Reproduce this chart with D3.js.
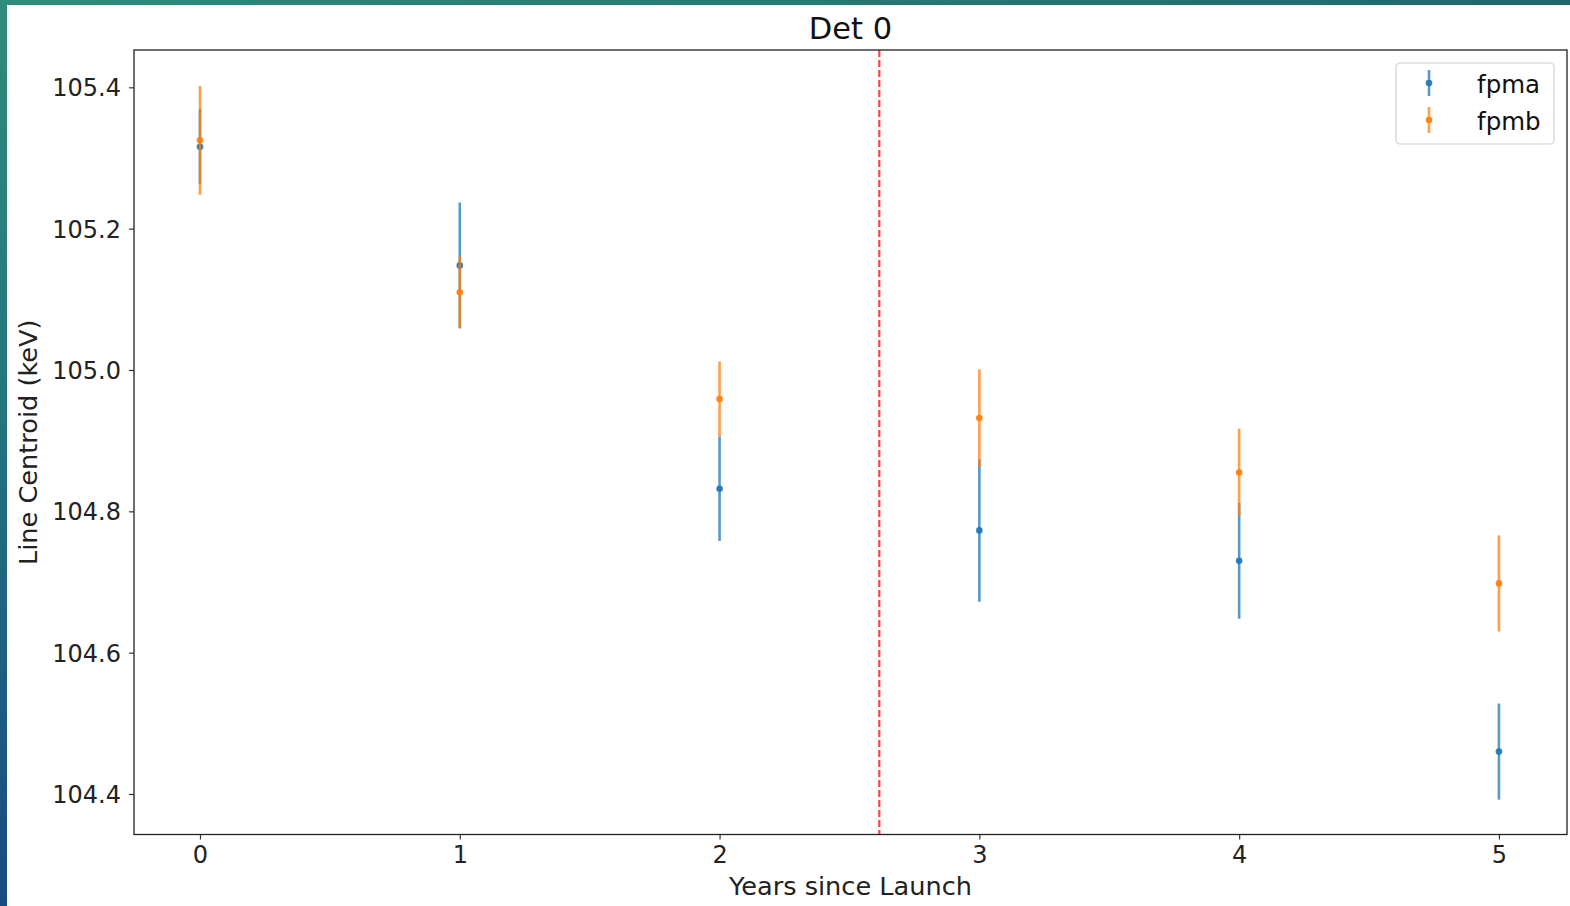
<!DOCTYPE html>
<html>
<head>
<meta charset="utf-8">
<script src="https://cdn.jsdelivr.net/npm/d3@7"></script>
<style>
  body { margin: 0; background: #fff; }
  svg { display: block; font-family: "DejaVu Sans", sans-serif; }
</style>
</head>
<body>
<svg id="root"></svg>
<script>
// Line centroid per detector over mission years

const years = [0, 1, 2, 3, 4, 5];
const fpma = [105.316, 105.148, 104.832, 104.773, 104.730, 104.460];
const fpmaErr = [0.053, 0.089, 0.074, 0.101, 0.082, 0.068];
const fpmb = [105.325, 105.110, 104.959, 104.932, 104.855, 104.698];
const fpmbErr = [0.077, 0.051, 0.053, 0.069, 0.062, 0.068];
const yTicks = [104.4, 104.6, 104.8, 105.0, 105.2, 105.4];
const xTicks = [0, 1, 2, 3, 4, 5];
const cutYear = 2.615; // red dashed marker

const W = 1570, H = 906;
const margin = { top: 50, right: 3, bottom: 71.5, left: 134 },
  width = W - margin.left - margin.right,
  height = H - margin.top - margin.bottom;

const root = d3.select("#root").attr("width", W).attr("height", H);

// slide background strips (left and top)
const defs = root.append("defs");
const gl = defs.append("linearGradient").attr("id", "leftGrad")
  .attr("x1", 0).attr("y1", 0).attr("x2", 0).attr("y2", 1);
gl.append("stop").attr("offset", "0%").attr("stop-color", "#2f8c7a");
gl.append("stop").attr("offset", "45%").attr("stop-color", "#23757f");
gl.append("stop").attr("offset", "100%").attr("stop-color", "#1a4a82");
const gt = defs.append("linearGradient").attr("id", "topGrad")
  .attr("x1", 0).attr("y1", 0).attr("x2", 1).attr("y2", 0);
gt.append("stop").attr("offset", "0%").attr("stop-color", "#2f8c7a");
gt.append("stop").attr("offset", "100%").attr("stop-color", "#1f676e");
root.append("rect").attr("x", 0).attr("y", 0).attr("width", W).attr("height", 5).attr("fill", "url(#topGrad)");
root.append("rect").attr("x", 0).attr("y", 0).attr("width", 7).attr("height", H).attr("fill", "url(#leftGrad)");

const svg = root.append("g")
  .attr("transform", "translate(" + margin.left + "," + margin.top + ")");

const xScale = d3.scaleLinear([-0.254, 5.262], [0, width]);
const yScale = d3.scaleLinear([104.3427, 105.4528], [height, 0]);

// axes
const xAxis = d3.axisBottom(xScale).tickValues(xTicks).tickFormat(d3.format("d")).tickSize(5).tickPadding(6);
const yAxis = d3.axisLeft(yScale).tickValues(yTicks).tickFormat(d3.format(".1f")).tickSize(5).tickPadding(8);
svg.append("g").attr("transform", `translate(0,${height})`).call(xAxis)
  .call((g) => g.select(".domain").remove())
  .call((g) => g.selectAll("line").attr("stroke", "#333").attr("stroke-width", 1.2))
  .call((g) => g.selectAll("text").attr("font-size", 24).attr("fill", "#222").attr("font-family", "DejaVu Sans"));
svg.append("g").call(yAxis)
  .call((g) => g.select(".domain").remove())
  .call((g) => g.selectAll("line").attr("stroke", "#333").attr("stroke-width", 1.2))
  .call((g) => g.selectAll("text").attr("font-size", 24).attr("fill", "#222").attr("font-family", "DejaVu Sans").attr("dy", "0.36em"));

// red dashed line
svg.append("line")
  .attr("x1", xScale(cutYear)).attr("x2", xScale(cutYear))
  .attr("y1", 0).attr("y2", height)
  .attr("stroke", "#ff2020").attr("stroke-opacity", 0.85)
  .attr("stroke-width", 2.2).attr("stroke-dasharray", "7,3");

// error bars
const series = [
  { name: "fpma", vals: fpma, errs: fpmaErr, color: "#1f77b4" },
  { name: "fpmb", vals: fpmb, errs: fpmbErr, color: "#ff7f0e" },
];
series.forEach((s) => {
  const pts = years.map((x, i) => ({ x: x, y: s.vals[i], e: s.errs[i] }));
  const g = svg.append("g");
  g.selectAll("line").data(pts).enter().append("line")
    .attr("x1", (d) => xScale(d.x)).attr("x2", (d) => xScale(d.x))
    .attr("y1", (d) => yScale(d.y - d.e)).attr("y2", (d) => yScale(d.y + d.e))
    .attr("stroke", s.color).attr("stroke-opacity", 0.75).attr("stroke-width", 2.6);
  g.selectAll("circle").data(pts).enter().append("circle")
    .attr("cx", (d) => xScale(d.x)).attr("cy", (d) => yScale(d.y))
    .attr("r", 3.3).attr("fill", s.color).attr("fill-opacity", 0.92);
});

// frame
svg.append("rect").attr("x", 0).attr("y", 0).attr("width", width).attr("height", height)
  .attr("fill", "none").attr("stroke", "#222").attr("stroke-width", 1.3);

// title and labels
svg.append("text").attr("x", width / 2).attr("y", -11).attr("text-anchor", "middle")
  .attr("font-size", 30.5).attr("fill", "#111").text("Det 0");
svg.append("text").attr("x", width / 2).attr("y", height + 60).attr("text-anchor", "middle")
  .attr("font-size", 25.6).attr("fill", "#222").text("Years since Launch");
svg.append("text").attr("transform", "rotate(-90)")
  .attr("x", -height / 2).attr("y", -97).attr("text-anchor", "middle")
  .attr("font-size", 25.6).attr("fill", "#222").text("Line Centroid (keV)");

// legend
const leg = svg.append("g").attr("transform", `translate(${1396 - margin.left},${63 - margin.top})`);
leg.append("rect").attr("width", 158).attr("height", 81).attr("rx", 4)
  .attr("fill", "#fff").attr("fill-opacity", 0.8).attr("stroke", "#d0d0d0").attr("stroke-width", 1.2);
series.forEach((s, i) => {
  const cy = 20 + i * 37;
  const h = leg.append("g");
  h.append("line").attr("x1", 33).attr("x2", 33).attr("y1", cy - 13).attr("y2", cy + 13)
    .attr("stroke", s.color).attr("stroke-opacity", 0.75).attr("stroke-width", 2.6);
  h.append("circle").attr("cx", 33).attr("cy", cy).attr("r", 3.3).attr("fill", s.color).attr("fill-opacity", 0.92);
  leg.append("text").attr("x", 81).attr("y", cy + 9.5).attr("font-size", 24.5).attr("fill", "#111").text(s.name);
});
</script>
</body>
</html>
